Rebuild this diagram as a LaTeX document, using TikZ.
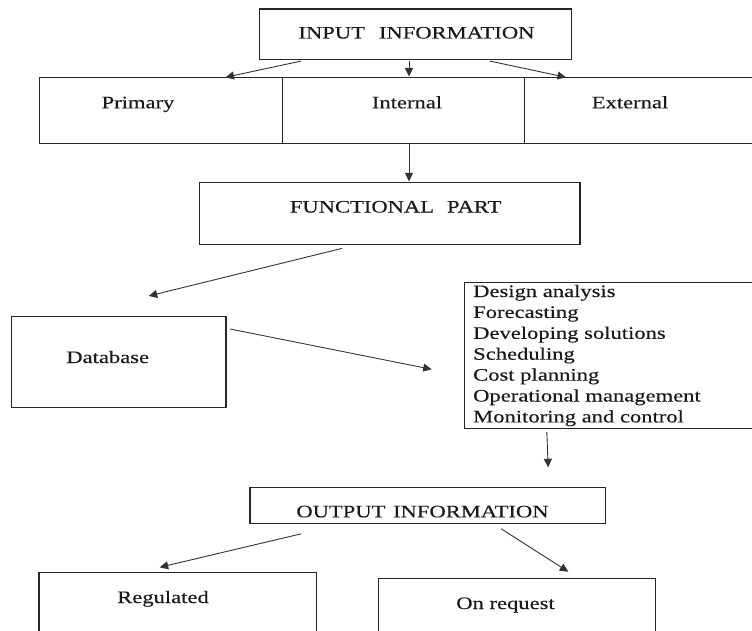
\documentclass[tikz,border=0pt]{standalone}
\usepackage{fontspec}
\setmainfont{Liberation Serif}[FakeStretch=1.29,FakeBold=0.25]
\usetikzlibrary{arrows.meta,calc}
\tikzset{
  box/.style={draw=black!85, line width=1.1pt, rectangle, inner sep=0pt, anchor=north west},
  txt/.style={inner sep=0pt, anchor=base, text=black!90, font=\fontsize{17.5}{20.9}\selectfont},
  ltxt/.style={txt, anchor=base west},
  arr/.style={draw=black!80, line width=0.9pt, -{Triangle[length=8.5pt,width=8pt]}}
}
\begin{document}
\begin{tikzpicture}[x=1pt,y=-1pt]
\clip (0,0) rectangle (752,631);
\fill[white] (0,0) rectangle (752,631);
% boxes
\node[box, minimum width=311.7pt, minimum height=50.5pt] (input) at (259,8.5) {};
\node[box, minimum width=243pt, minimum height=65.4pt] (primary) at (38.5,77.3) {};
\node[box, minimum width=242pt, minimum height=65.4pt] (internal) at (281.5,77.3) {};
\node[box, minimum width=260pt, minimum height=65.4pt] (external) at (523.5,77.3) {};
\node[box, minimum width=380.4pt, minimum height=62.3pt] (functional) at (199,181.7) {};
\node[box, minimum width=214.9pt, minimum height=91.6pt] (database) at (10.5,315.7) {};
\node[box, minimum width=310pt, minimum height=146.6pt] (list) at (463.8,281.7) {};
\node[box, minimum width=355.9pt, minimum height=36.3pt] (output) at (249.4,486.7) {};
\node[box, minimum width=277.2pt, minimum height=80pt] (regulated) at (38.4,572.3) {};
\node[box, minimum width=276.7pt, minimum height=80pt] (onrequest) at (378,578.3) {};
% texts
\node[txt] (tinput) at (416.5,38.5) {INPUT\hspace{14pt}INFORMATION};
\node[txt] (tprimary) at (138,108.3) {Primary};
\node[txt] (tinternal) at (407,108.3) {Internal};
\node[txt] (texternal) at (630,108.3) {External};
\node[txt] (tfunctional) at (395.6,212.5) {FUNCTIONAL\hspace{13pt}PART};
\node[txt] (tdatabase) at (107.7,363) {Database};
\foreach \t [count=\i from 0] in {Design analysis, Forecasting, Developing solutions, Scheduling, Cost planning, Operational management, Monitoring and control}
  \node[ltxt] (tl\i) at (473,297+20.9*\i) {\t};
\node[txt] (toutput) at (422.5,517.3) {OUTPUT\hspace{2pt} INFORMATION};
\node[txt] (tregulated) at (163,603) {Regulated};
\node[txt] (tonrequest) at (505.5,609) {On request};
% connectors
\draw[arr] ([shift={(42,1)}]input.south west) -- ([shift={(187,0)}]primary.north west);
\draw[arr] ([shift={(150,1)}]input.south west) -- ([shift={(127.5,-0.8)}]internal.north west);
\draw[arr] ([shift={(231,1)}]input.south west) -- ([shift={(42.5,0)}]external.north west);
\draw[arr] ([shift={(127.5,0.6)}]internal.south west) -- ([shift={(210,-0.3)}]functional.north west);
\draw[arr] ([shift={(143,3.3)}]functional.south west) -- ([shift={(138.2,-19.7)}]database.north west);
\draw[arr] ([shift={(3.6,13.3)}]database.north east) -- ([shift={(-32.1,87.6)}]list.north west);
\draw[arr] ([shift={(83,2.7)}]list.south west) -- ([shift={(298.8,-19.4)}]output.north west);
\draw[arr] ([shift={(51.8,9.7)}]output.south west) -- ([shift={(121.3,-5)}]regulated.north west);
\draw[arr] ([shift={(251.8,4.7)}]output.south west) -- ([shift={(190.3,-6.6)}]onrequest.north west);
\end{tikzpicture}
\end{document}
